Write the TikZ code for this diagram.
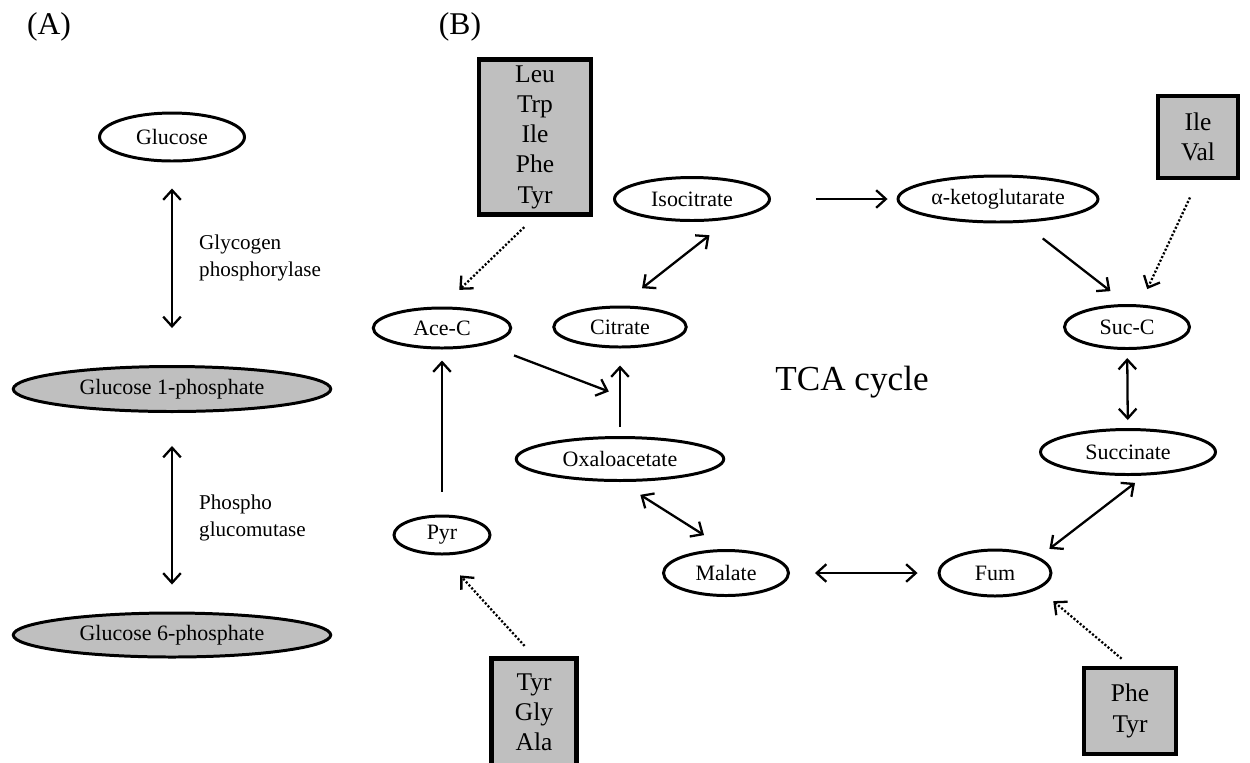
\documentclass[tikz,border=0pt]{standalone}
\usepackage{fontspec}
\setmainfont{Liberation Serif}
\usepackage{tikz}
\usetikzlibrary{shapes.geometric, arrows.meta}

\definecolor{boxgray}{HTML}{BFBFBF}

\begin{document}
\begin{tikzpicture}[
        x=0.02cm, y=-0.02cm,
        font=\fontsize{12.5}{15}\selectfont,
        % Styles for the pathway components
        metab/.style={
            ellipse, draw, line width=1.7pt, fill=white,
            inner sep=0pt, align=center
        },
        sugar/.style={metab, fill=boxgray},
        aabox/.style={
            rectangle, draw, line width=2.6pt, fill=boxgray,
            inner sep=0pt, align=center,
            font=\fontsize{14.5}{17.2}\selectfont
        },
        enzyme/.style={anchor=west, align=left, font=\fontsize{12}{15}\selectfont},
        panel/.style={font=\fontsize{18}{21}\selectfont},
        conv/.style={line width=1.3pt, -{Straight Barb[length=5.5pt, width=10pt]}},
        rev/.style={line width=1.3pt, {Straight Barb[length=5.5pt, width=10pt]}-{Straight Barb[length=5.5pt, width=10pt]}},
        feed/.style={line width=1.3pt, dash pattern=on 1.2pt off 1.1pt, -{Straight Barb[length=5.5pt, width=10pt]}}
    ]

    \useasboundingbox (0, 0) rectangle (1250, 762);
    \clip (0, 0) rectangle (1250, 762);

    % 1. PANEL LABELS
    \node[panel] (labA) at (49, 27) {(A)};
    \node[panel] (labB) at (460, 27) {(B)};

    % 2. GLYCOGEN BRANCH (panel A)
    \node[metab, minimum width=2.9cm, minimum height=0.96cm] (glc) at (172, 137) {Glucose};
    \node[sugar, minimum width=6.35cm, minimum height=0.9cm] (g1p) at (172, 389) {Glucose 1-phosphate};
    \node[sugar, minimum width=6.35cm, minimum height=0.88cm] (g6p) at (172, 635) {Glucose 6-phosphate};

    \node[enzyme] (gp) at (193, 258) {Glycogen\\phosphorylase};
    \node[enzyme] (pgm) at (193, 518) {Phospho\\glucomutase};

    \draw[rev, shorten <=0.52cm, shorten >=0.74cm] (glc) -- (g1p);
    \draw[rev, shorten <=0.66cm, shorten >=0.54cm] (g1p) -- (g6p);

    % 3. TCA CYCLE INTERMEDIATES (panel B)
    \node[metab, minimum width=2.75cm, minimum height=0.8cm] (ace) at (442, 328) {Ace-C};
    \node[metab, minimum width=2.65cm, minimum height=0.8cm] (cit) at (620, 327) {Citrate};
    \node[metab, minimum width=3.1cm, minimum height=0.86cm] (iso) at (692, 199) {Isocitrate};
    \node[metab, minimum width=4.0cm, minimum height=0.92cm] (akg) at (998, 199) {α-ketoglutarate};
    \node[metab, minimum width=2.5cm, minimum height=0.86cm] (suc) at (1127, 327) {Suc-C};
    \node[metab, minimum width=3.5cm, minimum height=0.9cm] (sucn) at (1128, 452) {Succinate};
    \node[metab, minimum width=2.24cm, minimum height=0.92cm] (fum) at (995, 573) {Fum};
    \node[metab, minimum width=2.5cm, minimum height=0.9cm] (mal) at (726, 573) {Malate};
    \node[metab, minimum width=4.15cm, minimum height=0.86cm] (oaa) at (620, 459) {Oxaloacetate};
    \node[metab, minimum width=1.92cm, minimum height=0.76cm] (pyr) at (442, 535) {Pyr};

    \node[font=\fontsize{20}{24}\selectfont] (tca) at (852, 382) {TCA cycle};

    % 4. AMINO ACID SOURCES
    \node[aabox, minimum width=2.24cm, minimum height=3.1cm] (box1) at (535, 137) {Leu\\Trp\\Ile\\Phe\\Tyr};
    \node[aabox, minimum width=1.6cm, minimum height=1.64cm] (box2) at (1198, 137) {Ile\\Val};
    \node[aabox, minimum width=1.7cm, minimum height=2.14cm] (box3) at (534, 712) {Tyr\\Gly\\Ala};
    \node[aabox, minimum width=1.84cm, minimum height=1.72cm] (box4) at (1130, 711) {Phe\\Tyr};

    % 5. CYCLE REACTIONS
    \draw[conv, shorten <=0.9cm, shorten >=0.18cm] (iso) -- (akg);
    \draw[conv, shorten <=0.51cm, shorten >=0.42cm] (akg.-44) -- (suc.north);
    \draw[rev, shorten <=0.16cm, shorten >=0.16cm] (suc) -- (sucn);
    \draw[rev, shorten <=0.24cm, shorten >=0.27cm] (sucn.-55) -- (fum.20);
    \draw[rev, shorten <=0.5cm, shorten >=0.4cm] (mal) -- (fum);
    \draw[rev, shorten <=0.48cm, shorten >=0.52cm] (oaa.south) -- (mal.north);
    \draw[conv, shorten <=0.18cm, shorten >=0.34cm] (oaa) -- coordinate[pos=0.46] (join) (cit);
    \draw[conv, shorten <=0.6cm, shorten >=0.24cm] (ace) -- (join);
    \draw[rev, shorten <=0.56cm, shorten >=0.52cm] (cit.north) -- (iso.-28);
    \draw[conv, shorten <=0.46cm, shorten >=0.22cm] (pyr) -- (ace);

    % 6. FEEDING FROM AMINO ACIDS (dotted)
    \draw[feed, shorten <=0.3cm, shorten >=0.48cm] (box1.south) -- (ace.north);
    \draw[feed, shorten <=0.38cm, shorten >=0.34cm] (box2.south) -- (suc.60);
    \draw[feed, shorten <=0.28cm, shorten >=0.54cm] (box3.north) -- (pyr.south);
    \draw[feed, shorten <=0.22cm, shorten >=0.38cm] (box4.north) -- (fum.-20);

\end{tikzpicture}
\end{document}
